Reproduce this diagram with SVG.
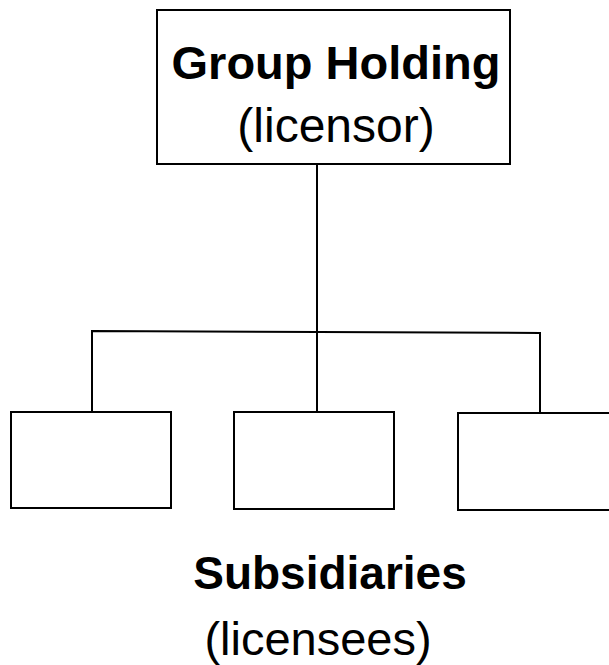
<svg xmlns="http://www.w3.org/2000/svg" width="609" height="665" viewBox="0 0 609 665">
<style>
.box{fill:#fff;stroke:#000;stroke-width:2}
.ln{fill:none;stroke:#000;stroke-width:2}
.b{font-family:"Liberation Sans",Arial,sans-serif;font-weight:bold;text-anchor:middle;fill:#000}
.r{font-family:"Liberation Sans",Arial,sans-serif;text-anchor:middle;fill:#000}
</style>
<rect width="609" height="665" fill="#fff"/>
<g id="connectors">
<line class="ln" x1="317" y1="164" x2="317" y2="411"/>
<polyline class="ln" points="92,412 92,331 540,333 540,413"/>
</g>
<g id="holding">
<rect class="box" x="157" y="10" width="353" height="154"/>
<text class="b" x="336" y="79" font-size="47">Group Holding</text>
<text class="r" x="336" y="142" font-size="48">(licensor)</text>
</g>
<g id="sub1"><rect class="box" x="11" y="412" width="160" height="96"/></g>
<g id="sub2"><rect class="box" x="234" y="412" width="160" height="97"/></g>
<g id="sub3"><rect class="box" x="458" y="413" width="160" height="97"/></g>
<g id="subsidiaries-label">
<text class="b" x="330" y="589" font-size="46">Subsidiaries</text>
<text class="r" x="318" y="655" font-size="47">(licensees)</text>
</g>
</svg>
